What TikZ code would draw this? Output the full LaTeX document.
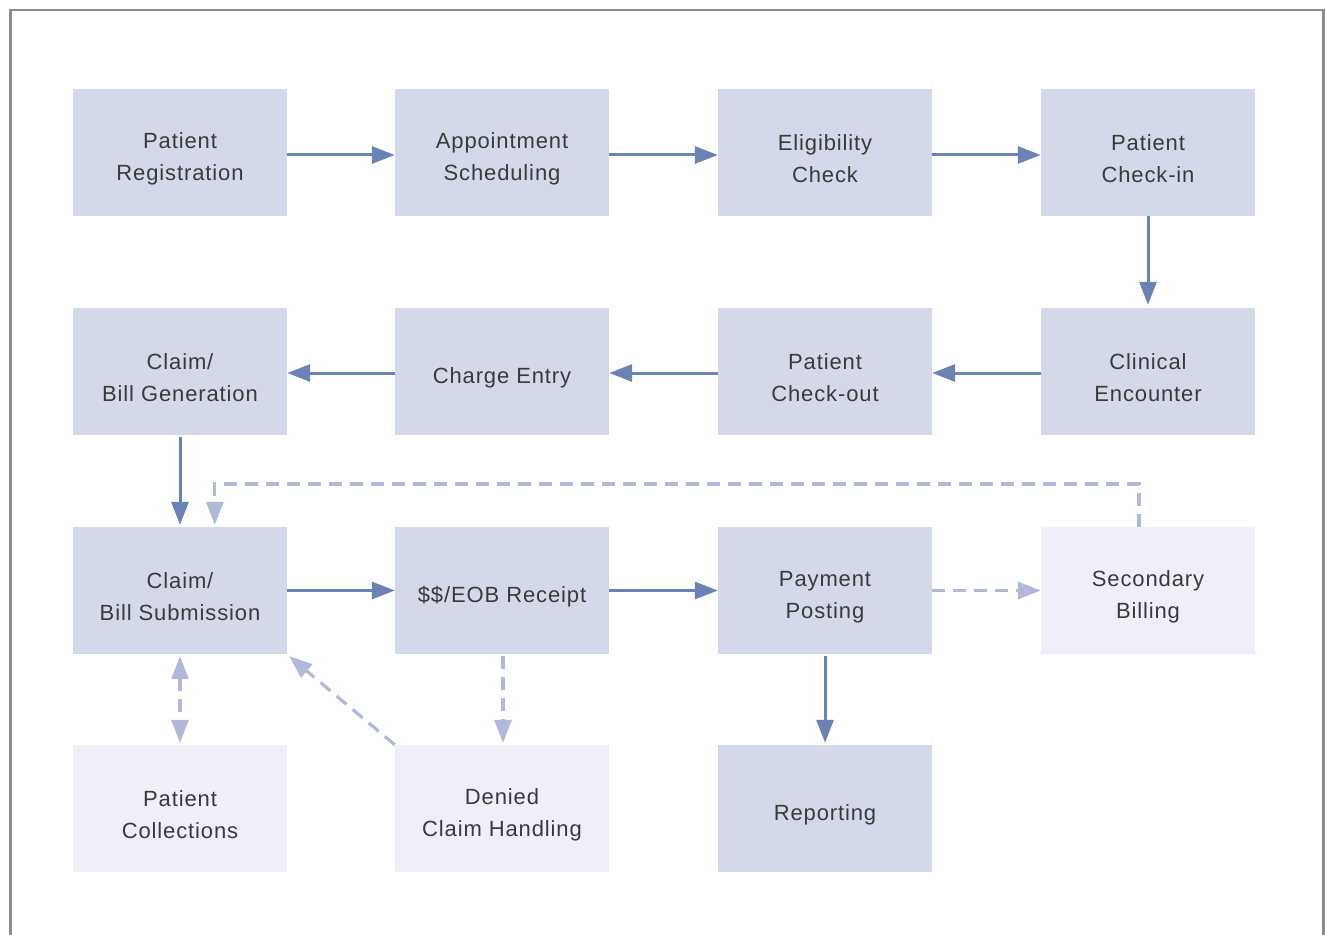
\documentclass[tikz,border=0pt]{standalone}
\usepackage{fontspec}
\setmainfont{Liberation Sans}[LetterSpace=4]
\usetikzlibrary{arrows.meta}
\definecolor{boxdark}{HTML}{D3D9E8}
\definecolor{boxlight}{HTML}{EEEFF7}
\definecolor{arrdark}{HTML}{6B82B5}
\definecolor{arrlight}{HTML}{B0B9D9}
\definecolor{framegray}{HTML}{8C8C8C}
\definecolor{txt}{HTML}{3A3A3A}
\tikzset{
  box/.style={rectangle, inner sep=0pt, minimum width=214bp, minimum height=127bp},
  dbox/.style={box, fill=boxdark},
  lbox/.style={box, fill=boxlight},
  boxtext/.style={inner sep=0pt, align=center, font=\fontsize{22bp}{32bp}\selectfont, text=txt},
  solidarr/.style={draw=arrdark, line width=3bp, -{Triangle[length=23bp,width=17bp]}},
  dasharr/.style={draw=arrlight, line width=3.2bp, dash pattern=on 13bp off 8bp,
    -{Triangle[length=23bp,width=17bp]}},
}
\newcommand\flowbox[4]{%
  \node[#3] (#1) at (#2) {};
  \node[boxtext] (#1-t) at ([yshift=-6.5bp]#1.center) {#4};}
\begin{document}
\begin{tikzpicture}[x=1bp,y=-1bp]
\useasboundingbox (0,0) rectangle (1325,934);
\draw[framegray, line width=2.5bp] (10.5,936) -- (10.5,10) -- (1323.5,10) -- (1323.5,936);
% row 1
\flowbox{pr}{180,152.5}{dbox}{Patient\\Registration}
\flowbox{as}{502,152.5}{dbox}{Appointment\\Scheduling}
\flowbox{ec}{825,152.5}{dbox}{Eligibility\\Check}
\flowbox{pci}{1148,152.5}{dbox}{Patient\\Check-in}
% row 2
\flowbox{cbg}{180,371.5}{dbox}{Claim/\\Bill Generation}
\flowbox{ce}{502,371.5}{dbox}{Charge Entry}
\flowbox{pco}{825,371.5}{dbox}{Patient\\Check-out}
\flowbox{cli}{1148,371.5}{dbox}{Clinical\\Encounter}
% row 3
\flowbox{cbs}{180,590.5}{dbox}{Claim/\\Bill Submission}
\flowbox{eob}{502,590.5}{dbox}{\$\$/EOB Receipt}
\flowbox{pp}{825,590.5}{dbox}{Payment\\Posting}
\flowbox{sb}{1148,590.5}{lbox}{Secondary\\Billing}
% row 4
\flowbox{pcol}{180,808.5}{lbox}{Patient\\Collections}
\flowbox{dch}{502,808.5}{lbox}{Denied\\Claim Handling}
\flowbox{rep}{825,808.5}{dbox}{Reporting}
% solid arrows
\draw[solidarr] ([yshift=-2.5]pr.east) -- ([yshift=-2.5]as.west);
\draw[solidarr] ([yshift=-2.5]as.east) -- ([yshift=-2.5]ec.west);
\draw[solidarr] ([yshift=-2.5]ec.east) -- ([yshift=-2.5]pci.west);
\draw[solidarr, shorten >=3bp] (pci.south) -- (cli.north);
\draw[solidarr] ([yshift=-1.5]cli.west) -- ([yshift=-1.5]pco.west -| pco.east);
\draw[solidarr] ([yshift=-1.5]pco.west) -- ([yshift=-1.5]ce.west -| ce.east);
\draw[solidarr] ([yshift=-1.5]ce.west) -- ([yshift=-1.5]cbg.west -| cbg.east);
\draw[solidarr, shorten <=2bp, shorten >=2bp] (cbg.south) -- (cbs.north);
\draw[solidarr] (cbs.east) -- (eob.west);
\draw[solidarr] (eob.east) -- (pp.west);
\draw[solidarr, shorten <=2bp, shorten >=2bp] (pp.south) -- (rep.north);
% dashed arrows
\coordinate (sbtop) at ([xshift=-9]sb.north);
\coordinate (cbstop) at ([xshift=35]cbs.north);
\draw[dasharr, shorten >=2bp] (sbtop) -- (sbtop |- 0,484) -- (cbstop |- 0,484) -- (cbstop);
\draw[dasharr] (pp.east) -- (sb.west);
\draw[dasharr, shorten <=2bp, shorten >=2bp] ([xshift=1]eob.south) -- ([xshift=1]dch.north);
\draw[dasharr] (dch.north west) -- ([shift={(2,2)}]cbs.south east);
\draw[dasharr, {Triangle[length=23bp,width=17bp]}-{Triangle[length=23bp,width=17bp]}, shorten <=2bp, shorten >=2bp] (cbs.south) -- (pcol.north);
\end{tikzpicture}
\end{document}
